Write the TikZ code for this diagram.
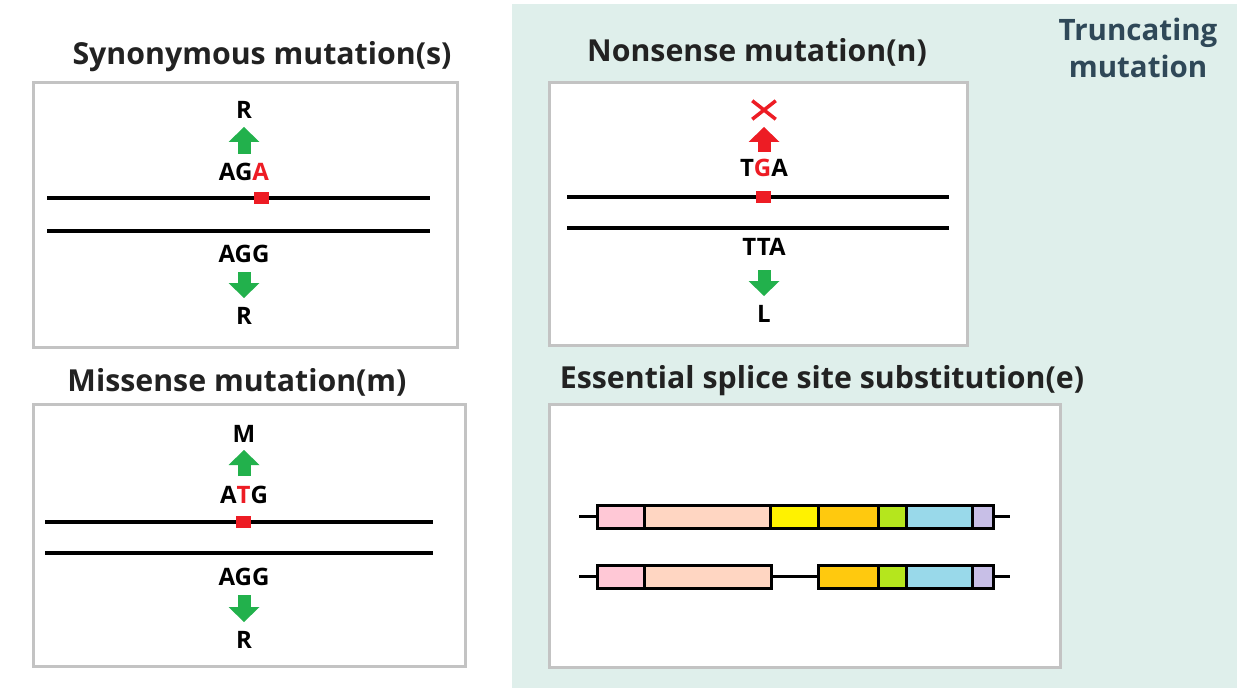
\documentclass[tikz,border=0pt]{standalone}
\usepackage{fontspec}
\setmainfont{Open Sans}
\usetikzlibrary{arrows.meta,positioning,shapes.misc}
\definecolor{truncbg}{HTML}{DFEFEB}
\definecolor{trunctext}{HTML}{2F4858}
\definecolor{panelgray}{HTML}{C3C3C3}
\definecolor{inkdark}{HTML}{222222}
\definecolor{snvred}{HTML}{ED1C24}
\definecolor{gaingreen}{HTML}{22B14C}
\definecolor{exPink}{HTML}{FFC8D6}
\definecolor{exPeach}{HTML}{FFD6C2}
\definecolor{exYellow}{HTML}{FFF200}
\definecolor{exOrange}{HTML}{FFC90E}
\definecolor{exLime}{HTML}{B5E61D}
\definecolor{exSky}{HTML}{99D9EA}
\definecolor{exLilac}{HTML}{C8BFE7}
\tikzset{
  panel/.style={draw=panelgray,line width=3pt,fill=white},
  heading/.style={font=\fontsize{30.3}{36}\selectfont\bfseries,text=inkdark,anchor=base,inner sep=0pt},
  residue/.style={font=\fontsize{24}{28}\selectfont\bfseries,anchor=base,inner sep=0pt},
  strand/.style={line width=3.5pt},
  snv/.style={fill=snvred,minimum width=15pt,minimum height=12pt,inner sep=0pt},
  transl/.style={line width=13pt,-{Triangle[width=31pt,length=15pt,line width=0pt]}},
  stopmark/.style={cross out,draw=snvred,line width=3.5pt,minimum width=20pt,minimum height=15pt,inner sep=0pt},
  exon/.style={draw,line width=3pt,minimum height=23pt,inner sep=0pt,outer sep=0pt,anchor=west},
  intron/.style={line width=3.5pt}
}
\begin{document}
\begin{tikzpicture}[x=1pt,y=-1pt]
  \useasboundingbox (0,0) rectangle (1241,695);
  \fill[white] (0,0) rectangle (1241,695);
  % truncating area
  \fill[truncbg] (512,4) rectangle (1237,688);
  \node[font=\fontsize{29.5}{37}\selectfont\bfseries,text=trunctext,align=center,inner sep=0pt] (trunc) at (1138,47.5) {Truncating\\mutation};

  % synonymous
  \node[heading] (syn) at (262,65) {Synonymous mutation(s)};
  \draw[panel] (33,83) rectangle (457,347);
  \node[residue] (sAaUp) at (244,119) {R};
  \node[residue] (sCodUp) at (244,181) {AG\textcolor{snvred}{A}};
  \draw[strand] (47,198) -- (430,198);
  \draw[strand] (47,231) -- (430,231);
  \node[snv] (sSnv) at (261.5,198) {};
  \node[residue] (sCodDn) at (244,262) {AGG};
  \node[residue] (sAaDn) at (244,324) {R};
  \draw[transl,draw=gaingreen,shorten <=27pt,shorten >=8pt] (sCodUp.base) -- (sAaUp.base);
  \draw[transl,draw=gaingreen,shorten <=10pt,shorten >=26pt] (sCodDn.base) -- (sAaDn.base);

  % missense
  \node[heading] (mis) at (237,391) {Missense mutation(m)};
  \draw[panel] (33,404) rectangle (465,666);
  \node[residue] (mAaUp) at (244,442) {M};
  \node[residue] (mCodUp) at (244,503) {A\textcolor{snvred}{T}G};
  \draw[strand] (45,522) -- (433,522);
  \draw[strand] (45,553) -- (433,553);
  \node[snv] (mSnv) at (243.5,521.5) {};
  \node[residue] (mCodDn) at (244,585) {AGG};
  \node[residue] (mAaDn) at (244,648) {R};
  \draw[transl,draw=gaingreen,shorten <=27pt,shorten >=8pt] (mCodUp.base) -- (mAaUp.base);
  \draw[transl,draw=gaingreen,shorten <=10pt,shorten >=26pt] (mCodDn.base) -- (mAaDn.base);

  % nonsense
  \node[heading] (non) at (757,62) {Nonsense mutation(n)};
  \draw[panel] (549,83) rectangle (967,345);
  \node[stopmark] (nStop) at (764,110) {};
  \node[residue] (nCodUp) at (764,177) {T\textcolor{snvred}{G}A};
  \draw[strand] (567,197) -- (949,197);
  \draw[strand] (567,228) -- (949,228);
  \node[snv] (nSnv) at (763.5,197) {};
  \node[residue] (nCodDn) at (764,255) {TTA};
  \node[residue] (nAaDn) at (764,322) {L};
  \draw[transl,draw=snvred,shorten <=25pt,shorten >=17pt] (nCodUp.base) -- (nStop.center);
  \draw[transl,draw=gaingreen,shorten <=15pt,shorten >=26pt] (nCodDn.base) -- (nAaDn.base);

  % splice site
  \node[heading] (spl) at (822,388) {Essential splice site substitution(e)};
  \draw[panel] (549,404) rectangle (1060,667);
  \draw[intron] (579,516.5) -- (1010,516.5);
  \draw[intron] (579,576.5) -- (1010,576.5);
  \foreach \xa/\xb/\col [count=\i] in {597/644/exPink,644/770/exPeach,770/818/exYellow,818/878/exOrange,878/906/exLime,906/972/exSky,972/993/exLilac}{
    \pgfmathsetmacro\w{\xb-\xa}
    \node[exon,fill=\col,minimum width=\w pt] (wt\i) at (\xa,516.5) {};
  }
  \foreach \xa/\xb/\col [count=\i] in {597/644/exPink,644/771/exPeach,818/878/exOrange,878/906/exLime,906/972/exSky,972/993/exLilac}{
    \pgfmathsetmacro\w{\xb-\xa}
    \node[exon,fill=\col,minimum width=\w pt] (sk\i) at (\xa,576.5) {};
  }
\end{tikzpicture}
\end{document}
